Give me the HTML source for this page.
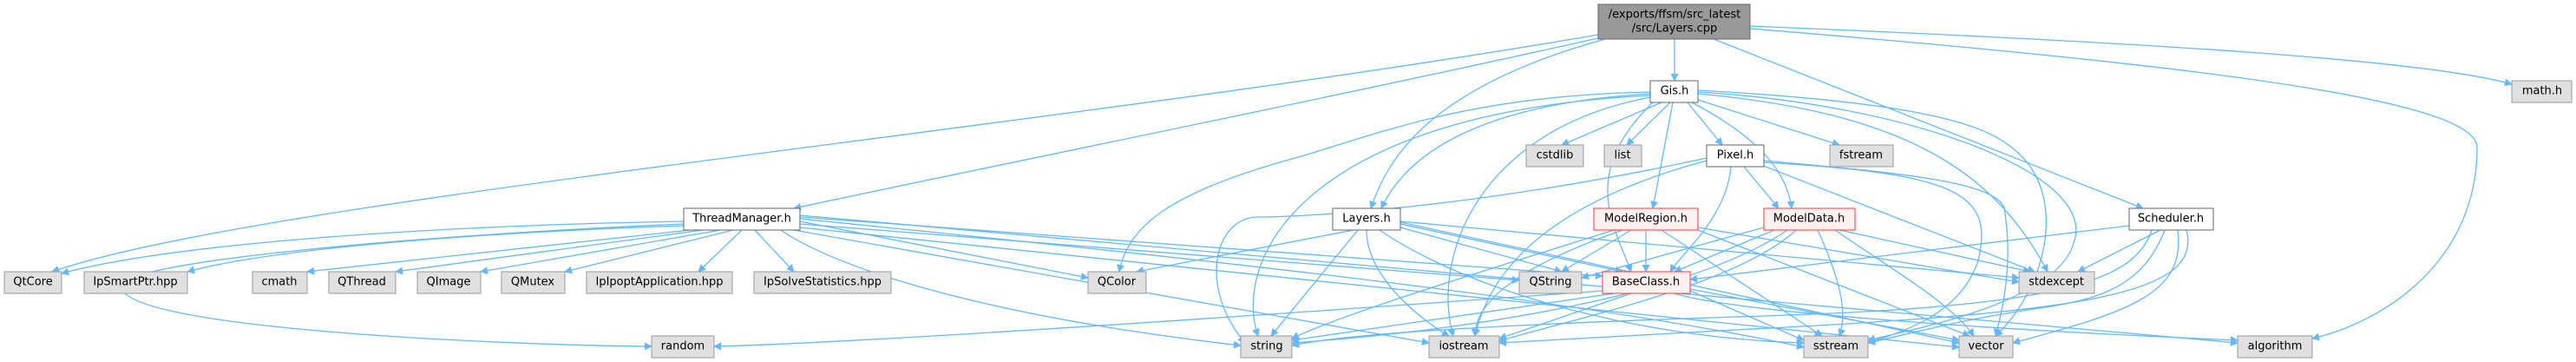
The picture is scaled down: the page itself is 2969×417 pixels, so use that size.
<!DOCTYPE html>
<html><head><meta charset="utf-8"><style>
html,body{margin:0;padding:0;background:#fff;}
svg{display:block}
text{font-family:"DejaVu Sans","Liberation Sans",sans-serif;font-size:13px;fill:#000;text-anchor:middle;dominant-baseline:central}
.e{fill:none;stroke:#63b8ff;stroke-width:1.3;marker-end:url(#a)}
.g{fill:#e0e0e0;stroke:#999}
.w{fill:#fff;stroke:#666}
.r{fill:#fff0f0;stroke:#f33}
.root{fill:#999;stroke:#666}
</style></head><body>
<svg width="2969" height="417" viewBox="0 0 2969 417" xmlns="http://www.w3.org/2000/svg">
<defs><marker id="a" viewBox="0 0 10 10" refX="9" refY="5" markerWidth="9" markerHeight="9" markerUnits="userSpaceOnUse" orient="auto"><path d="M0,0 L10,5 L0,10 z" fill="#63b8ff"/></marker></defs>
<g>
<path class="e" d="M1930,45 L1930,93"/>
<path class="e" d="M1842,40 C1200,150 300,230 60,313"/>
<path class="e" d="M1842,44 C1500,120 1100,200 915,240"/>
<path class="e" d="M1850,45 C1650,100 1600,180 1580,240"/>
<path class="e" d="M1975,45 L2470,240"/>
<path class="e" d="M2017,30 C2500,50 2800,70 2895,97"/>
<path class="e" d="M2017,33 C2600,80 2855,120 2855,170 C2855,300 2750,370 2665,390"/>
<path class="e" d="M1915,118 L1800,167"/>
<path class="e" d="M1925,118 L1875,167"/>
<path class="e" d="M1945,118 L1985,167"/>
<path class="e" d="M1957,115 L2120,167"/>
<path class="e" d="M1928,118 L1905,240"/>
<path class="e" d="M1950,118 C2030,160 2060,200 2065,240"/>
<path class="e" d="M1902,108 C1700,120 1620,180 1592,240"/>
<path class="e" d="M1902,110 C1500,130 1420,300 1450,387"/>
<path class="e" d="M1902,112 C1700,150 1650,300 1675,387"/>
<path class="e" d="M1905,118 C1820,200 1860,260 1880,313"/>
<path class="e" d="M1902,106 C1700,110 1600,150 1500,180 C1350,220 1300,260 1290,313"/>
<path class="e" d="M1957,108 C2200,130 2300,200 2360,313"/>
<path class="e" d="M1957,104 C2250,120 2300,150 2330,180 C2380,230 2360,330 2300,387"/>
<path class="e" d="M1957,106 C2200,120 2420,200 2390,280 C2370,350 2200,380 2153,392"/>
<path class="e" d="M2010,192 L2050,240"/>
<path class="e" d="M1995,192 C1990,250 1940,290 1925,313"/>
<path class="e" d="M2030,190 L2345,313"/>
<path class="e" d="M1967,185 C1800,230 1720,300 1700,387"/>
<path class="e" d="M1967,182 C1700,240 1500,250 1450,250 C1400,250 1380,330 1435,395"/>
<path class="e" d="M2033,185 C2200,200 2300,210 2310,240 C2320,300 2310,350 2300,387"/>
<path class="e" d="M2033,187 C2250,200 2300,220 2280,300 C2260,360 2200,380 2153,395"/>
<path class="e" d="M1560,265 L1310,313"/>
<path class="e" d="M1565,265 L1465,387"/>
<path class="e" d="M1575,265 C1575,320 1640,370 1670,387"/>
<path class="e" d="M1614,258 L1870,313"/>
<path class="e" d="M1614,262 L1800,313"/>
<path class="e" d="M1614,255 L2327,320"/>
<path class="e" d="M1590,265 C1700,340 1900,390 2079,395"/>
<path class="e" d="M1614,256 L2258,395"/>
<path class="e" d="M1880,265 L1800,313"/>
<path class="e" d="M1897,265 L1897,313"/>
<path class="e" d="M1860,265 C1750,300 1550,360 1489,390"/>
<path class="e" d="M1870,265 C1770,300 1700,340 1700,387"/>
<path class="e" d="M1957,262 L2327,325"/>
<path class="e" d="M1957,265 L2270,387"/>
<path class="e" d="M1915,265 L2100,387"/>
<path class="e" d="M2045,265 L1930,313"/>
<path class="e" d="M2033,262 L1823,320"/>
<path class="e" d="M2120,265 L2340,313"/>
<path class="e" d="M2115,265 C2180,310 2250,350 2275,387"/>
<path class="e" d="M2095,265 C2120,320 2130,360 2120,387"/>
<path class="e" d="M2070,265 C2000,330 1800,370 1728,393"/>
<path class="e" d="M2060,265 C1950,340 1700,380 1489,395"/>
<path class="e" d="M2454,260 L1948,322"/>
<path class="e" d="M2490,265 L2395,313"/>
<path class="e" d="M2495,265 C2470,330 2420,345 2350,355 C2250,370 2200,385 2153,395"/>
<path class="e" d="M2510,265 C2520,340 2450,360 2320,395"/>
<path class="e" d="M2520,265 C2540,340 2400,360 2000,380 C1850,388 1780,392 1728,395"/>
<path class="e" d="M2480,265 C2460,330 2350,355 2000,365 C1700,375 1550,385 1489,398"/>
<path class="e" d="M788,255 C500,260 200,280 71,315"/>
<path class="e" d="M788,260 C500,270 300,290 216,313"/>
<path class="e" d="M795,265 L354,313"/>
<path class="e" d="M810,265 L456,313"/>
<path class="e" d="M830,265 L554,313"/>
<path class="e" d="M845,265 L651,313"/>
<path class="e" d="M855,265 L805,313"/>
<path class="e" d="M870,265 L915,313"/>
<path class="e" d="M788,258 C500,270 140,300 140,330 C140,380 600,398 751,399"/>
<path class="e" d="M922,255 L1254,320"/>
<path class="e" d="M922,258 L1751,323"/>
<path class="e" d="M922,250 L1847,318"/>
<path class="e" d="M900,265 C950,300 1100,360 1430,398"/>
<path class="e" d="M915,265 L1647,395"/>
<path class="e" d="M922,262 L2258,400"/>
<path class="e" d="M922,252 C1300,290 1800,340 2079,400"/>
<path class="e" d="M922,248 L2579,395"/>
<path class="e" d="M1860,338 L1489,392"/>
<path class="e" d="M1880,338 L1728,390"/>
<path class="e" d="M1948,335 L2079,392"/>
<path class="e" d="M1948,333 L2258,392"/>
<path class="e" d="M1930,338 C2000,360 2300,380 2579,392"/>
<path class="e" d="M1847,335 C1500,360 1000,395 823,399"/>
</g>
<g>
<rect class="root" x="1842" y="5" width="175" height="40"/>
<text x="1930" y="17">/exports/ffsm/src_latest</text><text x="1930" y="33">/src/Layers.cpp</text>
<rect class="w" x="1902" y="93" width="55" height="25"/><text x="1930" y="105">Gis.h</text>
<rect class="g" x="2895" y="93" width="69" height="25"/><text x="2930" y="105">math.h</text>
<rect class="g" x="1759" y="167" width="66" height="25"/><text x="1792" y="179">cstdlib</text>
<rect class="g" x="1849" y="167" width="43" height="25"/><text x="1870" y="179">list</text>
<rect class="w" x="1967" y="167" width="66" height="25"/><text x="2000" y="179">Pixel.h</text>
<rect class="g" x="2109" y="167" width="73" height="25"/><text x="2145" y="179">fstream</text>
<rect class="w" x="788" y="240" width="134" height="25"/><text x="855" y="252">ThreadManager.h</text>
<rect class="w" x="1536" y="240" width="78" height="25"/><text x="1575" y="252">Layers.h</text>
<rect class="r" x="1837" y="240" width="120" height="25"/><text x="1897" y="252">ModelRegion.h</text>
<rect class="r" x="2033" y="240" width="105" height="25"/><text x="2085" y="252">ModelData.h</text>
<rect class="w" x="2454" y="240" width="97" height="25"/><text x="2502" y="252">Scheduler.h</text>
<rect class="g" x="5" y="313" width="66" height="25"/><text x="38" y="325">QtCore</text>
<rect class="g" x="97" y="313" width="119" height="25"/><text x="156" y="325">IpSmartPtr.hpp</text>
<rect class="g" x="291" y="313" width="63" height="25"/><text x="322" y="325">cmath</text>
<rect class="g" x="379" y="313" width="77" height="25"/><text x="417" y="325">QThread</text>
<rect class="g" x="481" y="313" width="73" height="25"/><text x="517" y="325">QImage</text>
<rect class="g" x="578" y="313" width="73" height="25"/><text x="614" y="325">QMutex</text>
<rect class="g" x="676" y="313" width="168" height="25"/><text x="760" y="325">IpIpoptApplication.hpp</text>
<rect class="g" x="869" y="313" width="158" height="25"/><text x="948" y="325">IpSolveStatistics.hpp</text>
<rect class="g" x="1254" y="313" width="67" height="25"/><text x="1287" y="325">QColor</text>
<rect class="g" x="1751" y="313" width="72" height="25"/><text x="1787" y="325">QString</text>
<rect class="r" x="1847" y="313" width="101" height="25"/><text x="1897" y="325">BaseClass.h</text>
<rect class="g" x="2327" y="313" width="87" height="25"/><text x="2370" y="325">stdexcept</text>
<rect class="g" x="751" y="387" width="72" height="25"/><text x="787" y="399">random</text>
<rect class="g" x="1430" y="387" width="59" height="25"/><text x="1460" y="399">string</text>
<rect class="g" x="1647" y="387" width="81" height="25"/><text x="1687" y="399">iostream</text>
<rect class="g" x="2079" y="387" width="74" height="25"/><text x="2116" y="399">sstream</text>
<rect class="g" x="2258" y="387" width="62" height="25"/><text x="2289" y="399">vector</text>
<rect class="g" x="2579" y="387" width="86" height="25"/><text x="2622" y="399">algorithm</text>
</g>
</svg>
</body></html>
